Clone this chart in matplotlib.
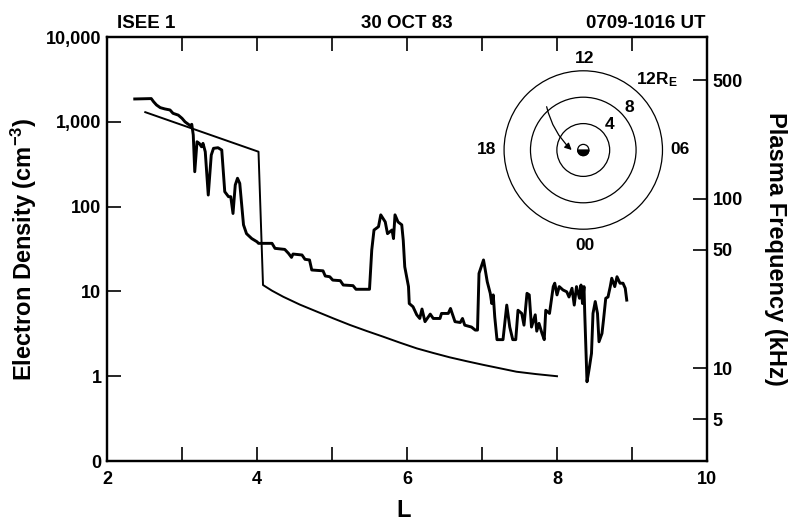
import matplotlib

matplotlib.use("Agg")

import matplotlib.pyplot as plt
from matplotlib.patches import Circle, Wedge

plt.rcParams["font.family"] = ["Liberation Sans", "DejaVu Sans"]
plt.rcParams["font.weight"] = "bold"
plt.rcParams["axes.labelweight"] = "bold"
plt.rcParams["mathtext.fontset"] = "custom"
plt.rcParams["mathtext.rm"] = "Liberation Sans:bold"
plt.rcParams["mathtext.it"] = "Liberation Sans:bold"
plt.rcParams["mathtext.bf"] = "Liberation Sans:bold"

# electron density along the ISEE 1 pass (L, cm^-3)
L_OBS = [
    2.37, 2.59, 2.62, 2.66, 2.71, 2.77, 2.84, 2.88, 2.95, 3.00,
    3.04, 3.11, 3.13, 3.15, 3.17, 3.20, 3.23, 3.26, 3.28, 3.31,
    3.35, 3.39, 3.42, 3.48, 3.53, 3.57, 3.62, 3.65, 3.68, 3.71,
    3.74, 3.77, 3.82, 3.86, 3.93, 4.00, 4.02, 4.20, 4.24, 4.37,
    4.42, 4.46, 4.48, 4.60, 4.64, 4.70, 4.73, 4.88, 4.91, 4.97,
    5.01, 5.11, 5.15, 5.28, 5.32, 5.50, 5.53, 5.56, 5.62, 5.65,
    5.71, 5.74, 5.80, 5.82, 5.84, 5.88, 5.93, 5.95, 5.97, 6.02,
    6.03, 6.08, 6.13, 6.17, 6.20, 6.24, 6.31, 6.35, 6.44, 6.46,
    6.55, 6.58, 6.64, 6.71, 6.74, 6.77, 6.86, 6.91, 6.94, 6.96,
    6.99, 7.02, 7.04, 7.07, 7.11, 7.13, 7.15, 7.17, 7.20, 7.28,
    7.33, 7.37, 7.41, 7.45, 7.48, 7.53, 7.56, 7.60, 7.63, 7.66,
    7.71, 7.73, 7.76, 7.80, 7.83, 7.85, 7.90, 7.95, 7.97, 8.00,
    8.03, 8.08, 8.13, 8.16, 8.20, 8.23, 8.26, 8.30, 8.32, 8.34,
    8.36, 8.37, 8.40, 8.43, 8.46, 8.48, 8.51, 8.54, 8.56, 8.60,
    8.62, 8.65, 8.68, 8.71, 8.73, 8.77, 8.80, 8.84, 8.88, 8.91,
    8.93,
]
N_OBS = [
    1860, 1880, 1730, 1580, 1470, 1420, 1380, 1260, 1200, 1100,
    1000, 900, 935, 700, 258, 582, 557, 508, 557, 444,
    137, 406, 487, 495, 465, 150, 131, 131, 83, 180,
    216, 188, 61, 48, 42, 38.5, 36.9, 36.9, 32.2, 31.3,
    28.1, 25.2, 27.6, 26.9, 23.9, 23.5, 17.9, 17.5, 15.2, 14.9,
    13.6, 13.4, 11.9, 11.7, 10.6, 10.6, 30.8, 53, 58, 80,
    66, 48, 53, 42, 80, 66, 61, 40, 19.5, 11.4,
    7.2, 6.6, 5.3, 4.8, 6.2, 4.4, 5.4, 4.8, 4.8, 5.5,
    5.5, 6.3, 4.4, 4.3, 4.8, 4.0, 3.8, 3.5, 3.5, 16.3,
    19.5, 23.5, 18.7, 13.0, 9.5, 7.2, 9.1, 5.0, 2.7, 2.7,
    6.9, 3.8, 2.7, 2.7, 6.0, 5.5, 4.0, 9.5, 9.1, 3.8,
    5.3, 3.4, 4.2, 3.2, 2.7, 6.0, 5.5, 11.4, 12.5, 9.1,
    11.4, 10.4, 9.9, 8.6, 10.9, 6.9, 11.4, 8.3, 11.9, 7.2,
    11.4, 5.5, 0.86, 1.24, 1.86, 5.5, 7.6, 5.5, 2.55, 3.2,
    4.6, 8.3, 8.6, 11.4, 14.3, 11.4, 14.9, 12.5, 12.5, 10.9,
    7.9,
]

# model plasmasphere / trough density profile
L_MODEL = [2.51, 4.02, 4.08, 4.20, 4.35, 4.57, 4.80, 5.02, 5.24, 5.46,
           5.68, 5.91, 6.13, 6.35, 6.57, 6.80, 7.02, 7.24, 7.46, 7.72, 8.00]
N_MODEL = [1300, 444, 11.9, 10.2, 8.65, 7.0, 5.77, 4.80, 4.02, 3.42,
           2.93, 2.48, 2.13, 1.88, 1.67, 1.50, 1.36, 1.24, 1.13, 1.06, 1.00]

DENSITY_TICKS = [0.1, 1, 10, 100, 1000, 10000]
DENSITY_LABELS = ["0", "1", "10", "100", "1,000", "10,000"]
FREQ_TICKS_KHZ = [5, 10, 50, 100, 500]
L_TICKS = [2, 3, 4, 5, 6, 7, 8, 9, 10]

# orbit inset (units of Earth radii)
RING_RADII = [4, 8, 12]
RING_LABELS = ["4", "8", "12R$_{\\mathrm{E}}$"]
RING_LABEL_POS = [(4.0, 3.8), (7.0, 6.5), (11.1, 10.6)]
MLT_LABELS = ["12", "06", "00", "18"]
MLT_LABEL_POS = [(0.25, 13.8), (14.65, 0.0), (0.25, -14.4), (-14.6, 0.0)]
TRAJ_START = (-5.55, 6.56)
TRAJ_END = (-1.76, 0.0)

FP_COEF = 8.98  # plasma frequency, kHz per sqrt(cm^-3)

fig = plt.figure(figsize=(7.88, 5.23), dpi=100)
ax = fig.add_axes([0.1358, 0.1185, 0.7614, 0.8107])

ax.plot(L_MODEL, N_MODEL, color="black", linewidth=1.4, solid_joinstyle="round")
ax.plot(L_OBS, N_OBS, color="black", linewidth=2.1, solid_joinstyle="round")

ax.set_xlim(2, 10)
ax.set_yscale("log")
ax.set_ylim(0.1, 10000)
ax.minorticks_off()
ax.set_xticks(L_TICKS)
ax.set_xticklabels([str(t) if t % 2 == 0 else "" for t in L_TICKS])
ax.set_yticks(DENSITY_TICKS)
ax.set_yticklabels(DENSITY_LABELS)
ax.tick_params(axis="both", direction="in", length=10, width=1.2, labelsize=13)
ax.tick_params(axis="x", top=True, pad=7)
ax.tick_params(axis="y", pad=4)
for sp in ax.spines.values():
    sp.set_linewidth(1.6)

ax2 = ax.twinx()
ax2.set_yscale("log")
ax2.set_ylim(ax.get_ylim())
ax2.minorticks_off()
ax2.set_yticks([(f / FP_COEF) ** 2 for f in FREQ_TICKS_KHZ])
ax2.set_yticklabels([str(f) for f in FREQ_TICKS_KHZ])
ax2.tick_params(axis="y", direction="in", length=10, width=1.2, labelsize=13, pad=4)
for sp in ax2.spines.values():
    sp.set_linewidth(1.6)

ax.set_xlabel("L", fontsize=17, fontweight="bold", va="center")
ax.xaxis.set_label_coords(0.495, -0.116)
ax.set_ylabel("Electron Density (cm$^{-3}$)", fontsize=17, fontweight="bold", va="center")
ax.yaxis.set_label_coords(-0.138, 0.5)
ax2.set_ylabel("Plasma Frequency (kHz)", fontsize=17, fontweight="bold", rotation=270, va="center")
ax2.yaxis.set_label_coords(1.115, 0.5)

ax.text(0.016, 1.021, "ISEE 1", transform=ax.transAxes, fontsize=13.5, ha="left", va="baseline")
ax.text(0.5, 1.021, "30 OCT 83", transform=ax.transAxes, fontsize=13.5, ha="center", va="baseline")
ax.text(0.997, 1.021, "0709-1016 UT", transform=ax.transAxes, fontsize=13.5, ha="right", va="baseline")

# equatorial-plane orbit sketch
ins = fig.add_axes([0.6133, 0.5220, 0.2538, 0.3824])
ins.set_xlim(-15.15, 15.15)
ins.set_ylim(-15.15, 15.15)
ins.axis("off")
for r in RING_RADII:
    ins.add_patch(Circle((0, 0), r, fill=False, edgecolor="black", linewidth=0.9))
ins.add_patch(Circle((0, 0), 0.85, facecolor="white", edgecolor="black", linewidth=0.9))
ins.add_patch(Wedge((0, 0), 0.85, 180, 360, facecolor="black", edgecolor="black", linewidth=0.9))
for label, (x, y) in zip(RING_LABELS, RING_LABEL_POS):
    ins.text(x, y, label, fontsize=12.5, ha="center", va="center")
for label, (x, y) in zip(MLT_LABELS, MLT_LABEL_POS):
    ins.text(x, y, label, fontsize=12.5, ha="center", va="center")
ins.annotate(
    "",
    xy=TRAJ_END,
    xytext=TRAJ_START,
    arrowprops=dict(
        arrowstyle="-|>",
        connectionstyle="arc3,rad=0.15",
        color="black",
        linewidth=0.9,
        mutation_scale=10,
        shrinkA=0,
        shrinkB=0,
    ),
)

fig.savefig("out.png", dpi=100)
